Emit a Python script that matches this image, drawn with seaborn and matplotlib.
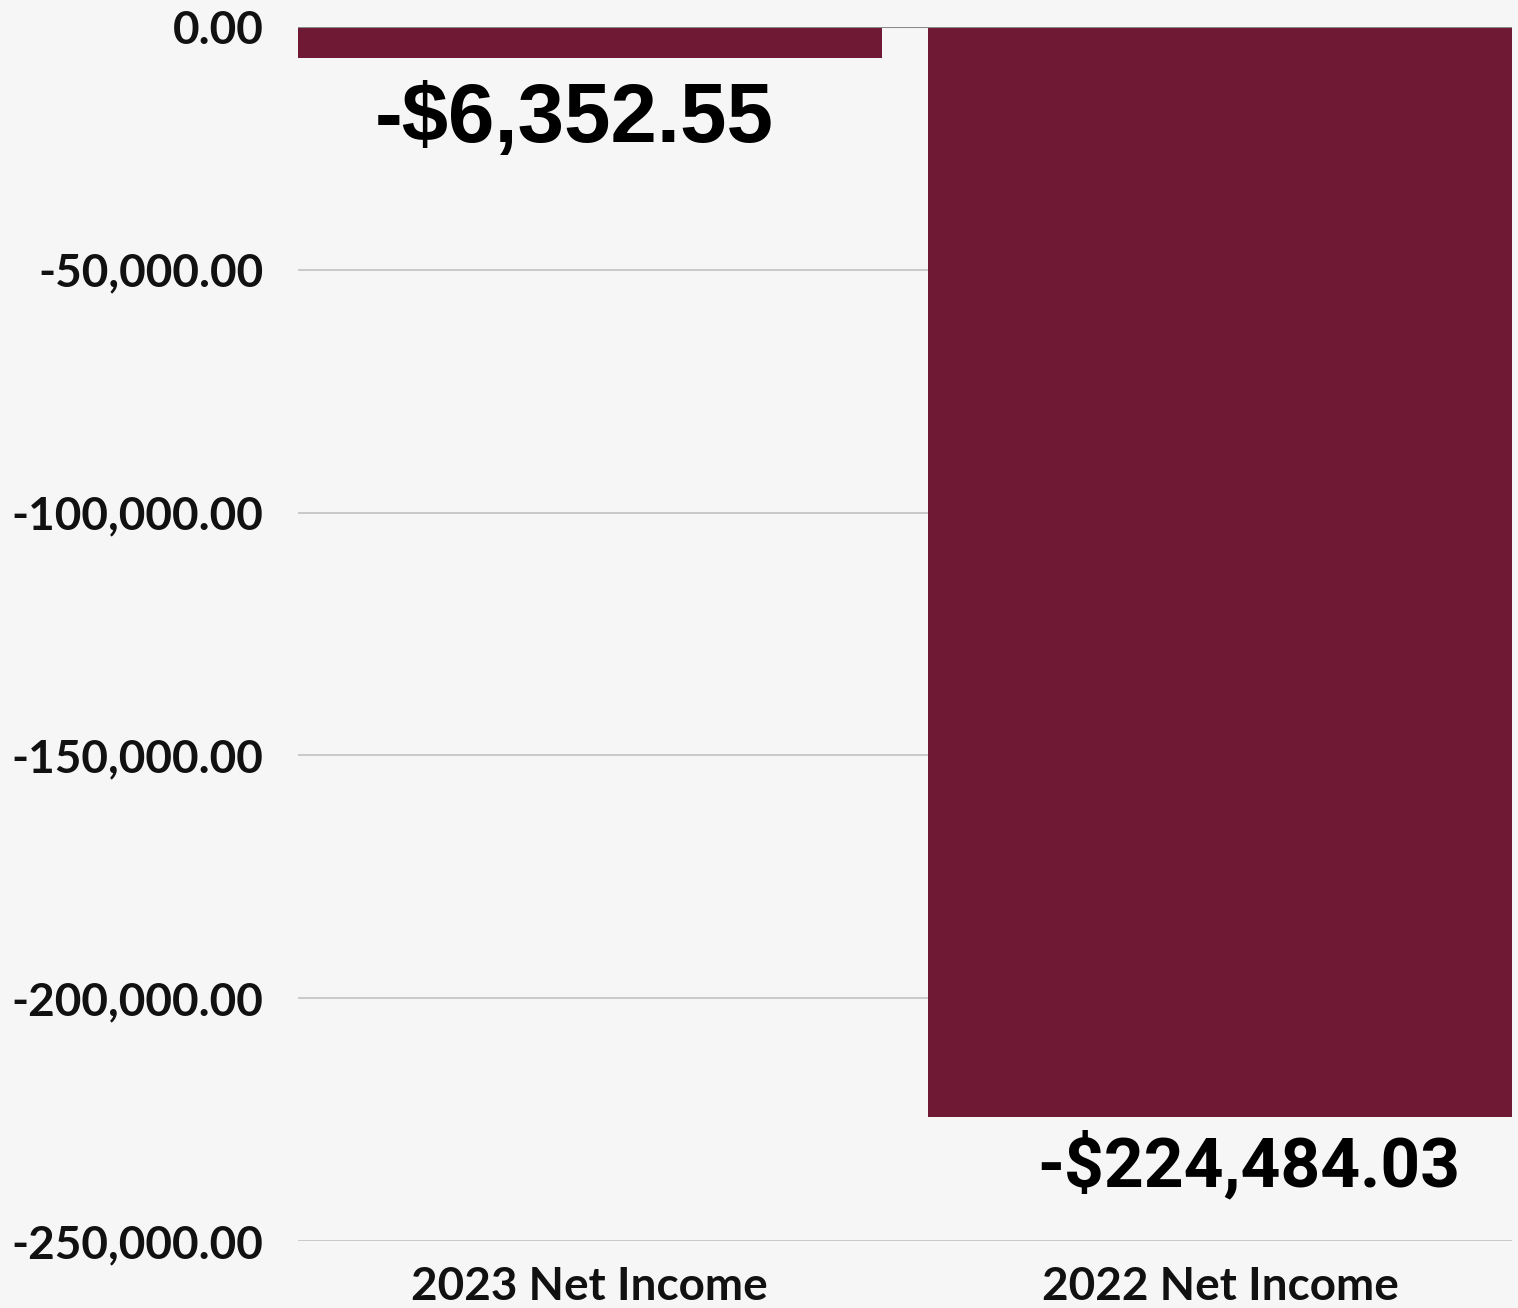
import matplotlib
matplotlib.use("Agg")
import matplotlib.pyplot as plt
import seaborn as sns
import pandas as pd
from matplotlib.ticker import FuncFormatter

categories = ["2023 Net Income", "2022 Net Income"]
values = [-6352.55, -224484.03]
value_labels = ["-$6,352.55", "-$224,484.03"]
yticks = [0, -50000, -100000, -150000, -200000, -250000]

df = pd.DataFrame({"category": categories, "value": values})

sns.set_theme(style="white")
bg = "#f6f6f6"
fig = plt.figure(figsize=(15.18, 13.08), dpi=100, facecolor=bg)
ax = fig.add_axes([298/1518, (1308-1241)/1308, (1512-298)/1518, (1241-27)/1308])
ax.set_facecolor(bg)

w = 0.926
sns.barplot(data=df, x="category", y="value", color="#6f1935", width=w,
            saturation=1, ax=ax, zorder=3, edgecolor="none")

ax.set_ylim(-250000, 0)
ax.set_xlim(-w/2, 1 + w/2)
ax.set_yticks(yticks)
ax.yaxis.set_major_formatter(FuncFormatter(lambda v, p: f"{v:,.2f}" if v != 0 else "0.00"))
for t in yticks[1:]:
    ax.axhline(t, color="#c6c6c6", lw=1.3, zorder=1)
ax.axhline(0, color="#8a8a8a", lw=1.5, zorder=4)

for s in ax.spines.values():
    s.set_visible(False)
ax.tick_params(axis="y", length=0, pad=25)
ax.tick_params(axis="x", length=0, pad=18)
for lab in ax.get_yticklabels() + ax.get_xticklabels():
    lab.set_fontfamily(["Lato", "DejaVu Sans"])
    lab.set_fontweight("bold")
    lab.set_fontsize(33)
    lab.set_color("#111111")
ax.set_xlabel("")
ax.set_ylabel("")

fonts = [["Liberation Sans", "DejaVu Sans"], ["Roboto", "DejaVu Sans"]]
sizes = [60, 50]
offsets_x = [-0.025, 0.045]
offsets_y = [-45, -35]
for i, (v, lab) in enumerate(zip(values, value_labels)):
    ax.annotate(lab, xy=(i + offsets_x[i], v), xytext=(0, offsets_y[i]), textcoords="offset points",
                ha="center", va="center", fontsize=sizes[i], fontweight="bold",
                family=fonts[i], color="#000000", zorder=5)

fig.savefig("out.png", dpi=100, facecolor=bg)
